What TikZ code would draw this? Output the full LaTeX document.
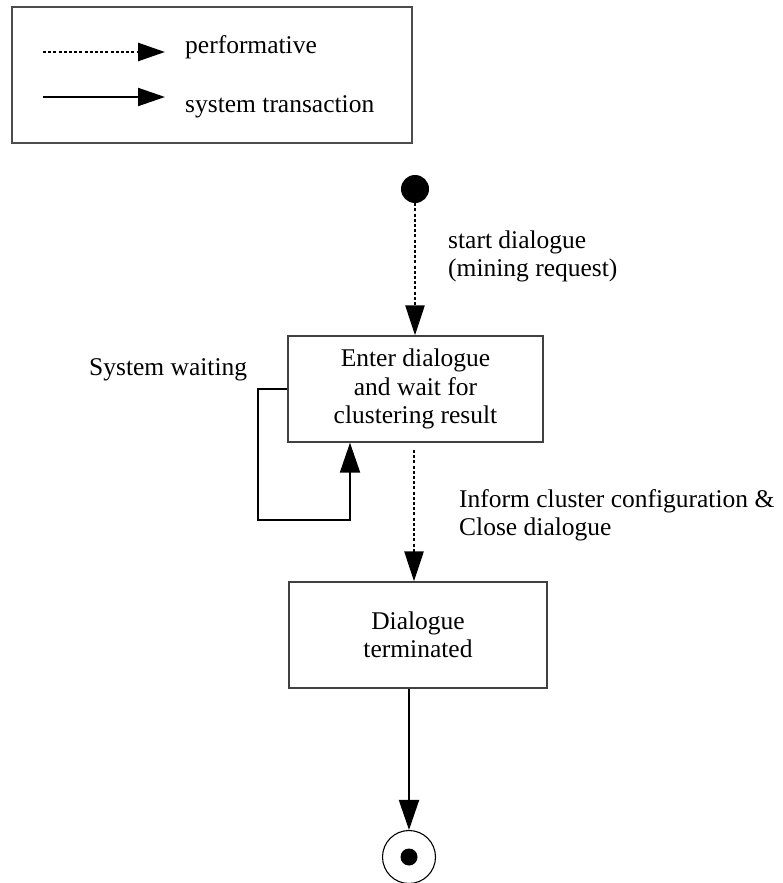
\documentclass[tikz,border=0pt]{standalone}
\usepackage{fontspec}
\setmainfont{Liberation Serif}
\usetikzlibrary{arrows.meta}

\tikzset{
  txt/.style={inner sep=0pt, font=\fontsize{25.5}{28.5}\selectfont},
  state/.style={draw=black!75, line width=1.3pt, inner sep=0pt, align=center,
                font=\fontsize{25.5}{28.5}\selectfont},
  frame/.style={draw=black!70, line width=1.3pt},
  perf/.style={line width=2.6pt, dash pattern=on 3pt off 2.2pt,
               -{Triangle[length=30pt,width=19pt]}},
  trans/.style={line width=2pt, -{Triangle[length=30pt,width=20pt]}},
  legperf/.style={line width=2.6pt, dash pattern=on 3pt off 2.2pt,
                  -{Triangle[length=27pt,width=18pt]}},
  legtrans/.style={line width=2pt, -{Triangle[length=27pt,width=18pt]}},
}

\begin{document}
\begin{tikzpicture}[x=1pt, y=-1pt]
  \useasboundingbox (0,0) rectangle (782,883);

  % legend
  \draw[frame] (12,7) rectangle (412,143);
  \coordinate (lp1) at (43,52);
  \coordinate (lp2) at (165,52);
  \coordinate (lt1) at (43,97);
  \coordinate (lt2) at (165,97);
  \draw[legperf] (lp1) -- (lp2);
  \draw[legtrans] (lt1) -- (lt2);
  \node[txt, anchor=base west] (lperf) at (185,54) {performative};
  \node[txt, anchor=base west] (ltrans) at (185,112) {system transaction};

  % states
  \node[circle, fill=black, minimum size=28pt, inner sep=0pt] (start) at (415,189) {};
  \node[state, minimum width=255pt, minimum height=106pt] (box1) at (415.5,389)
       {Enter dialogue\\and wait for\\clustering result};
  \node[state, minimum width=258pt, minimum height=106pt] (box2) at (418,635)
       {Dialogue\\terminated};
  \node[circle, draw=black, line width=1.1pt, minimum size=53pt, inner sep=0pt] (end) at (409,857) {};
  \node[circle, fill=black, minimum size=17pt, inner sep=0pt] (enddot) at (end.center) {};

  % transitions
  \draw[perf] (start.south) -- (start.south |- box1.north);
  \coordinate (inf) at (414,450);
  \draw[perf] (inf) -- (inf |- box2.north);
  \draw[trans] (box2.south -| end) -- (end.north);

  \coordinate (loopL) at (258,520);
  \coordinate (loopR) at (350,520);
  \draw[trans] (box1.west) -| (loopL) -- (loopR) -- (loopR |- box1.south);

  % labels
  \node[txt, anchor=base west] (lstart) at (448,248)
       {\begin{tabular}[t]{@{}l@{}}start dialogue\\(mining request)\end{tabular}};
  \node[txt, anchor=base west] (lwait) at (89,375) {System waiting};
  \node[txt, anchor=base west] (linform) at (459,507)
       {\begin{tabular}[t]{@{}l@{}}Inform cluster configuration \&\\Close dialogue\end{tabular}};
\end{tikzpicture}
\end{document}
